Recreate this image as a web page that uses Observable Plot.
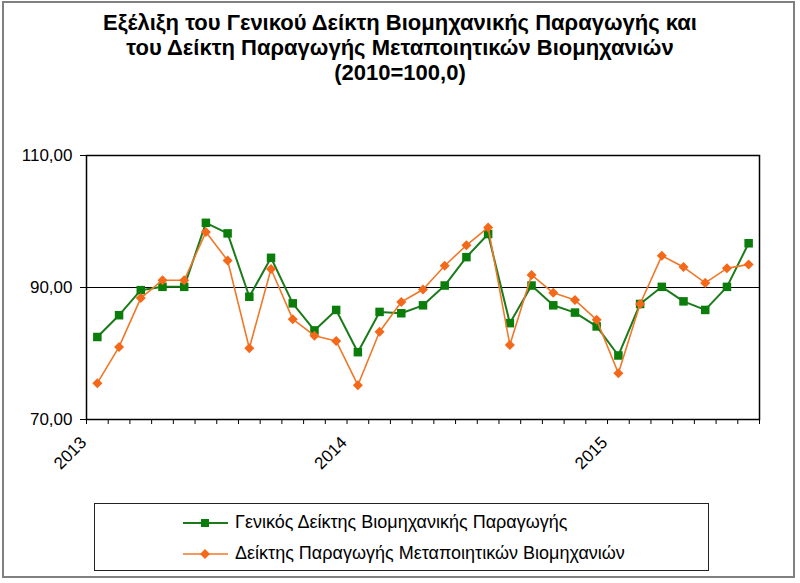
<!DOCTYPE html>
<html>
<head>
<meta charset="utf-8">
<script src="https://cdn.jsdelivr.net/npm/d3@7"></script>
<script src="https://cdn.jsdelivr.net/npm/@observablehq/plot@0.6"></script>
<style>
  body { margin: 0; background: #fff; }
  #wrap { position: relative; width: 800px; height: 583px; overflow: hidden; font-family: "Liberation Sans", Arial, sans-serif; background: #fff; }
  #border { position: absolute; left: 2px; top: 1px; width: 793px; height: 577px; border: 2px solid #808080; box-sizing: border-box; }
  #title { position: absolute; left: 0; top: 10px; width: 800px; text-align: center; font-weight: bold; font-size: 22px; line-height: 25px; color: #000; white-space: nowrap; }
  #chart { position: absolute; left: 0; top: 100px; }
  #legend { position: absolute; left: 94px; top: 503px; width: 615px; height: 68px; border: 1px solid #222; box-sizing: border-box; background: #fff; }
  #legend svg { position: absolute; left: 0; top: 0; }
  .lg-text { position: absolute; left: 140px; font-size: 18px; line-height: 18px; color: #000; white-space: nowrap; }
</style>
</head>
<body>
<div id="wrap">
  <div id="border"></div>
  <div id="title">Εξέλιξη του Γενικού Δείκτη Βιομηχανικής Παραγωγής και<br>του Δείκτη Παραγωγής Μεταποιητικών Βιομηχανιών<br>(2010=100,0)</div>
  <div id="chart"></div>
  <div id="legend"></div>
</div>
<script>
// Months (categories), Jan 2013 – Jul 2015
const months = [
  "2013-01","2013-02","2013-03","2013-04","2013-05","2013-06","2013-07","2013-08","2013-09","2013-10","2013-11","2013-12",
  "2014-01","2014-02","2014-03","2014-04","2014-05","2014-06","2014-07","2014-08","2014-09","2014-10","2014-11","2014-12",
  "2015-01","2015-02","2015-03","2015-04","2015-05","2015-06","2015-07"
];
// Γενικός Δείκτης Βιομηχανικής Παραγωγής
const generalIndex = [
  82.5, 85.8, 89.6, 90.1, 90.1, 99.8, 98.2, 88.6, 94.5, 87.6, 83.5, 86.6,
  80.2, 86.3, 86.1, 87.3, 90.3, 94.6, 98.1, 84.6, 90.3, 87.3, 86.2, 84.1,
  79.7, 87.5, 90.1, 87.9, 86.6, 90.1, 96.7
];
// Δείκτης Παραγωγής Μεταποιητικών Βιομηχανιών
const manufacturingIndex = [
  75.5, 81.0, 88.4, 91.1, 91.1, 98.4, 94.1, 80.8, 92.8, 85.2, 82.7, 81.9,
  75.2, 83.3, 87.8, 89.7, 93.3, 96.4, 99.1, 81.3, 91.9, 89.2, 88.1, 85.1,
  77.0, 87.5, 94.8, 93.1, 90.7, 92.9, 93.5
];
const seriesNames = ["Γενικός Δείκτης Βιομηχανικής Παραγωγής", "Δείκτης Παραγωγής Μεταποιητικών Βιομηχανιών"];
const yTicks = [70, 90, 110];
const yearLabels = ["2013", "2014", "2015"];
const refLine = 90;

const greenLine = "#1b7b1b", greenFill = "#0a7d0a";
const orangeLine = "#f07828", orangeFill = "#f4681a";

const diamond = {
  draw(ctx, size) {
    const h = Math.sqrt(size / 2);
    ctx.moveTo(0, -h); ctx.lineTo(h, 0); ctx.lineTo(0, h); ctx.lineTo(-h, 0); ctx.closePath();
  }
};

const g = months.map((m, i) => ({i: i + 0.5, v: generalIndex[i]}));
const o = months.map((m, i) => ({i: i + 0.5, v: manufacturingIndex[i]}));
const yearPos = yearLabels.map(y => ({label: y, i: months.indexOf(y + "-01")}));

const fmt = d => d.toFixed(2).replace(".", ",");

const chart = Plot.plot({
  width: 800,
  height: 380,
  marginLeft: 86,
  marginRight: 41,
  marginTop: 55,
  marginBottom: 61,
  style: {fontFamily: "'Liberation Sans', Arial, sans-serif", fontSize: "17px", color: "#000", background: "transparent"},
  x: {domain: [0, months.length], axis: null},
  y: {domain: [70, 110], axis: null},
  marks: [
    Plot.ruleY([refLine], {stroke: "#000", strokeWidth: 1}),
    Plot.axisY({ticks: yTicks, tickFormat: fmt, tickSize: 6, tickPadding: 8, label: null, fontSize: 17, stroke: "#000"}),
    Plot.axisX({ticks: d3.range(months.length + 1), tickFormat: () => "", tickSize: 5, label: null, stroke: "#000"}),
    Plot.text(yearPos, {x: "i", frameAnchor: "bottom", text: "label", rotate: -45, textAnchor: "end", dy: 24, dx: 1, fontSize: 17, fill: "#000"}),
    Plot.line(g, {x: "i", y: "v", stroke: greenLine, strokeWidth: 2}),
    Plot.dot(g, {x: "i", y: "v", symbol: "square", r: 4.8, fill: greenFill, stroke: "none"}),
    Plot.line(o, {x: "i", y: "v", stroke: orangeLine, strokeWidth: 1.6}),
    Plot.dot(o, {x: "i", y: "v", symbol: diamond, r: 4, fill: orangeFill, stroke: "none"}),
    Plot.frame({stroke: "#000", strokeWidth: 1.5})
  ]
});
document.getElementById("chart").appendChild(chart);

// Legend
const legend = document.getElementById("legend");
const ns = "http://www.w3.org/2000/svg";
const lsvg = document.createElementNS(ns, "svg");
lsvg.setAttribute("width", 615); lsvg.setAttribute("height", 68);
const rows = [
  {y: 19, top: 8.5, line: greenLine, fill: greenFill, shape: "square"},
  {y: 50, top: 40, line: orangeLine, fill: orangeFill, shape: "diamond"}
];
rows.forEach((r, k) => {
  const ln = document.createElementNS(ns, "line");
  ln.setAttribute("x1", 88); ln.setAttribute("x2", 133);
  ln.setAttribute("y1", r.y); ln.setAttribute("y2", r.y);
  ln.setAttribute("stroke", r.line); ln.setAttribute("stroke-width", k === 0 ? 2 : 1.6);
  lsvg.appendChild(ln);
  const p = document.createElementNS(ns, "path");
  if (r.shape === "square") p.setAttribute("d", `M${110-4},${r.y-4}h8v8h-8z`);
  else p.setAttribute("d", `M110,${r.y-5}l5,5l-5,5l-5,-5z`);
  p.setAttribute("fill", r.fill);
  lsvg.appendChild(p);
  const t = document.createElement("div");
  t.className = "lg-text";
  t.style.top = r.top + "px";
  t.textContent = seriesNames[k];
  legend.appendChild(t);
});
legend.appendChild(lsvg);
</script>
</body>
</html>
